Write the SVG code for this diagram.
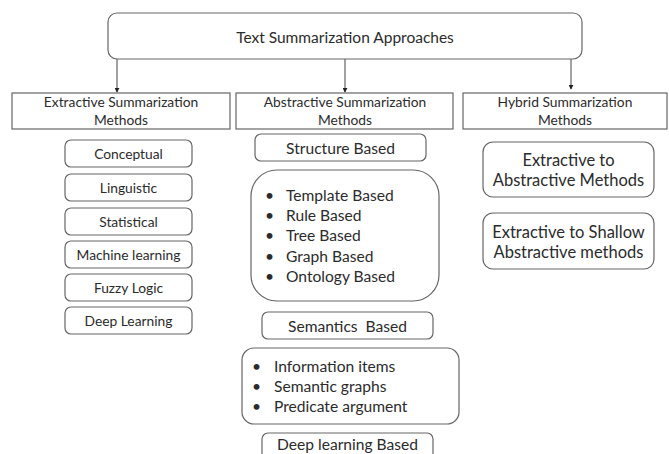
<svg xmlns="http://www.w3.org/2000/svg" width="669" height="454" viewBox="0 0 669 454">
<defs>
<marker id="ah" viewBox="0 0 6 6" refX="5" refY="3" markerWidth="5" markerHeight="5" orient="auto">
<path d="M0,0 L6,3 L0,6 z" fill="#222"/>
</marker>
<style>
.b{fill:#fff;stroke:#666;stroke-width:1.2}
.t{font-family:Lato,"Open Sans","Liberation Sans",sans-serif;fill:#2b2b2b;text-anchor:middle}
.l{font-family:Lato,"Open Sans","Liberation Sans",sans-serif;fill:#2b2b2b}
.c{stroke:#444;stroke-width:1;fill:none}
</style>
</defs>
<rect width="669" height="454" fill="#fff"/>
<g id="connectors">
<line class="c" x1="117" y1="59" x2="117" y2="92" marker-end="url(#ah)"/>
<line class="c" x1="345" y1="59" x2="345" y2="92" marker-end="url(#ah)"/>
<line class="c" x1="571" y1="59" x2="571" y2="89" marker-end="url(#ah)"/>
</g>
<g id="root"><rect class="b" x="108" y="13" width="474" height="46" rx="9"/><text class="t" x="345" y="43" font-size="15.5">Text Summarization Approaches</text></g>
<g id="extractive"><rect class="b" x="12" y="93" width="218" height="36"/><text class="t" x="121" y="107" font-size="13.8">Extractive Summarization</text><text class="t" x="121" y="125" font-size="13.8">Methods</text></g>
<g id="abstractive"><rect class="b" x="236" y="93" width="217" height="36"/><text class="t" x="345" y="107" font-size="13.8">Abstractive Summarization</text><text class="t" x="345" y="125" font-size="13.8">Methods</text></g>
<g id="hybrid"><rect class="b" x="463" y="93" width="204" height="36"/><text class="t" x="565" y="107" font-size="13.8">Hybrid Summarization</text><text class="t" x="565" y="125" font-size="13.8">Methods</text></g>
<g id="conceptual"><rect class="b" x="65" y="140" width="127" height="27" rx="6"/><text class="t" x="128.5" y="158.5" font-size="13.8">Conceptual</text></g>
<g id="linguistic"><rect class="b" x="65" y="174" width="127" height="27" rx="6"/><text class="t" x="128.5" y="192.5" font-size="13.8">Linguistic</text></g>
<g id="statistical"><rect class="b" x="65" y="208" width="127" height="27" rx="6"/><text class="t" x="128.5" y="226.5" font-size="13.8">Statistical</text></g>
<g id="machine"><rect class="b" x="65" y="241" width="127" height="27" rx="6"/><text class="t" x="128.5" y="259.5" font-size="13.8">Machine learning</text></g>
<g id="fuzzy"><rect class="b" x="65" y="274" width="127" height="27" rx="6"/><text class="t" x="128.5" y="292.5" font-size="13.8">Fuzzy Logic</text></g>
<g id="deep"><rect class="b" x="65" y="307" width="127" height="27" rx="6"/><text class="t" x="128.5" y="325.5" font-size="13.8">Deep Learning</text></g>
<g id="structure"><rect class="b" x="255" y="134" width="171" height="27" rx="6"/><text class="t" x="340.5" y="153.5" font-size="15.6">Structure Based</text></g>
<g id="structure-list"><rect class="b" x="251" y="170" width="188" height="131" rx="26"/>
<text class="l" font-size="15.6"><tspan x="265" y="201">•</tspan><tspan x="286" y="201">Template Based</tspan><tspan x="265" y="221">•</tspan><tspan x="286" y="221">Rule Based</tspan><tspan x="265" y="241">•</tspan><tspan x="286" y="241">Tree Based</tspan><tspan x="265" y="262">•</tspan><tspan x="286" y="262">Graph Based</tspan><tspan x="265" y="282">•</tspan><tspan x="286" y="282">Ontology Based</tspan></text></g>
<g id="semantics"><rect class="b" x="262" y="312" width="171" height="27" rx="6"/><text class="t" x="347.5" y="331.5" font-size="15.6" xml:space="preserve">Semantics  Based</text></g>
<g id="semantics-list"><rect class="b" x="242" y="348" width="217" height="76" rx="12"/>
<text class="l" font-size="15.6"><tspan x="252" y="372">•</tspan><tspan x="274" y="372">Information items</tspan><tspan x="252" y="392">•</tspan><tspan x="274" y="392">Semantic graphs</tspan><tspan x="252" y="412">•</tspan><tspan x="274" y="412">Predicate argument</tspan></text></g>
<g id="deep-based"><rect class="b" x="262" y="433" width="171" height="27" rx="6"/><text class="t" x="347.5" y="450" font-size="15.6">Deep learning Based</text></g>
<g id="ext-abs"><rect class="b" x="483" y="142" width="171" height="55" rx="10"/><text class="t" x="568.5" y="166" font-size="16.5">Extractive to</text><text class="t" x="568.5" y="186" font-size="16.5">Abstractive Methods</text></g>
<g id="ext-shallow"><rect class="b" x="483" y="213" width="171" height="56" rx="10"/><text class="t" x="568.5" y="238" font-size="16.5">Extractive to Shallow</text><text class="t" x="568.5" y="258" font-size="16.5">Abstractive methods</text></g>
</svg>
